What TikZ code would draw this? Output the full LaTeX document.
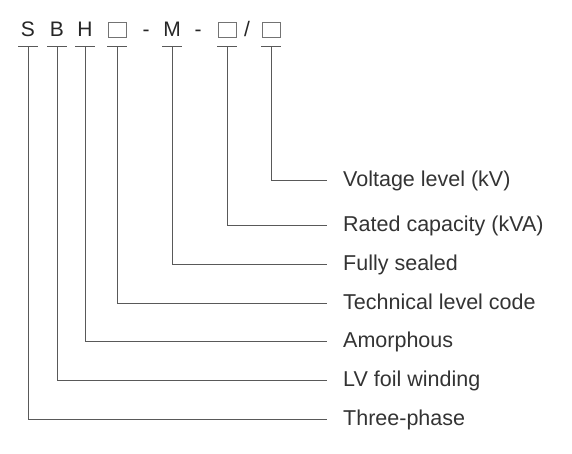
\documentclass[tikz,border=0pt]{standalone}
\usepackage{fontspec}
\setmainfont{Liberation Sans}
\begin{document}
\begin{tikzpicture}[x=1pt,y=-1pt,
  code/.style={inner sep=0pt, anchor=base, text=black!85, font=\fontsize{21}{24}\selectfont},
  slot/.style={draw=black!55, line width=0.9pt, minimum width=18pt, minimum height=14.5pt, inner sep=0pt},
  lab/.style={inner sep=0pt, anchor=base west, text=black!80, font=\fontsize{21.5}{24}\selectfont},
  conn/.style={draw=black!65, line width=1pt},
  bar/.style={draw=black!65, line width=1pt}]
\useasboundingbox (0,0) rectangle (572,454);
% code letters
\node[code] (cS) at (28,37) {S};
\node[code] (cB) at (57,37) {B};
\node[code] (cH) at (85,37) {H};
\node[slot] (b1) at (117,30) {};
\node[code] (d1) at (146,37) {-};
\node[code] (cM) at (172,37) {M};
\node[code] (d2) at (198,37) {-};
\node[slot] (b2) at (227,30) {};
\node[code] (sl) at (247,37) {/};
\node[slot] (b3) at (271,30) {};
% top tick coordinates
\foreach \n/\x in {tS/28,tB/57,tH/85,tb1/117,tM/172,tb2/227,tb3/271}{
  \coordinate (\n) at (\x,47);
  \draw[bar] (\x-10,47) -- (\x+10,47);
}
% labels
\node[lab] (l7) at (343,187) {Voltage level (kV)};
\node[lab] (l6) at (343,231) {Rated capacity (kVA)};
\node[lab] (l5) at (343,270) {Fully sealed};
\node[lab] (l4) at (343,309) {Technical level code};
\node[lab] (l3) at (343,347) {Amorphous};
\node[lab] (l2) at (343,386) {LV foil winding};
\node[lab] (l1) at (343,425) {Three-phase};
% line ends
\coordinate (e7) at (327,181);
\coordinate (e6) at (327,225);
\coordinate (e5) at (327,264);
\coordinate (e4) at (327,303);
\coordinate (e3) at (327,341);
\coordinate (e2) at (327,380);
\coordinate (e1) at (327,419);
% connectors
\draw[conn] (tb3) |- (e7);
\draw[conn] (tb2) |- (e6);
\draw[conn] (tM) |- (e5);
\draw[conn] (tb1) |- (e4);
\draw[conn] (tH) |- (e3);
\draw[conn] (tB) |- (e2);
\draw[conn] (tS) |- (e1);
\end{tikzpicture}
\end{document}
